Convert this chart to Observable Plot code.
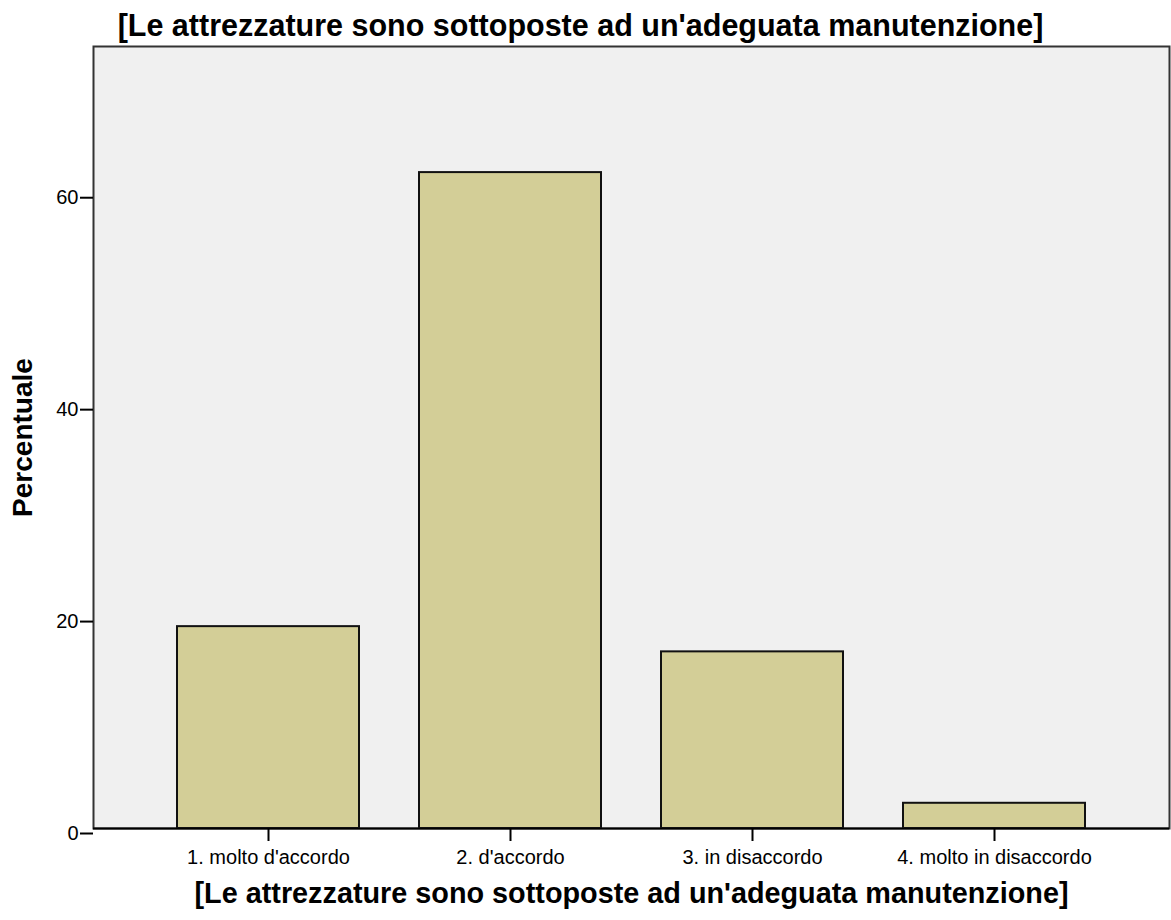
<!DOCTYPE html>
<html>
<head>
<meta charset="utf-8">
<script src="https://cdn.jsdelivr.net/npm/d3@7"></script>
<script src="https://cdn.jsdelivr.net/npm/@observablehq/plot@0.6"></script>
<style>
  html, body { margin: 0; padding: 0; background: #ffffff; }
  svg { display: block; }
</style>
</head>
<body>
<div id="chart"></div>
<script>
const categories = ["1. molto d'accordo", "2. d'accordo", "3. in disaccordo", "4. molto in disaccordo"];
const percentages = [19.05, 61.90, 16.67, 2.38];
const yTicks = [0, 20, 40, 60];
const titleText = "[Le attrezzature sono sottoposte ad un'adeguata manutenzione]";
const xLabelText = "[Le attrezzature sono sottoposte ad un'adeguata manutenzione]";
const yLabelText = "Percentuale";

const data = categories.map((c, i) => ({category: c, value: percentages[i]}));

const chart = Plot.plot({
  width: 1171,
  height: 920,
  marginLeft: 93,
  marginRight: 2,
  marginTop: 46,
  marginBottom: 92,
  style: {fontFamily: "'Liberation Sans', Arial, sans-serif", background: "#ffffff", color: "#000000"},
  x: {domain: categories, paddingInner: 0.25, paddingOuter: 0.346},
  y: {domain: [0, 73.8]},
  marks: [
    Plot.frame({fill: "#f0f0f0", stroke: "none"}),
    Plot.barY(data, {x: "category", y: "value", fill: "#d3ce97", stroke: "#111111", strokeWidth: 2}),
    Plot.frame({fill: "none", stroke: "#333333", strokeWidth: 2}),
    Plot.ruleY([0], {stroke: "#000000", strokeWidth: 2}),
    Plot.axisX({tickSize: 13, tickPadding: 8, fontSize: 20, strokeWidth: 2, stroke: "#000", label: null}),
    Plot.axisY({ticks: yTicks, tickSize: 13, tickPadding: 2, fontSize: 20, dy: 5, strokeWidth: 2, stroke: "#000", label: null}),
    Plot.text([titleText], {text: d => d, frameAnchor: "top", lineAnchor: "middle", textAnchor: "middle", dx: -51, dy: -20.6, fontSize: 30.5, fontWeight: "bold", fill: "#000"}),
    Plot.text([xLabelText], {text: d => d, frameAnchor: "bottom", lineAnchor: "middle", textAnchor: "middle", dy: 65.7, fontSize: 28.8, fontWeight: "bold", fill: "#000"}),
    Plot.text([yLabelText], {text: d => d, frameAnchor: "left", lineAnchor: "middle", textAnchor: "middle", dx: -70, rotate: -90, fontSize: 28, fontWeight: "bold", fill: "#000"})
  ]
});
document.getElementById("chart").appendChild(chart);
</script>
</body>
</html>
